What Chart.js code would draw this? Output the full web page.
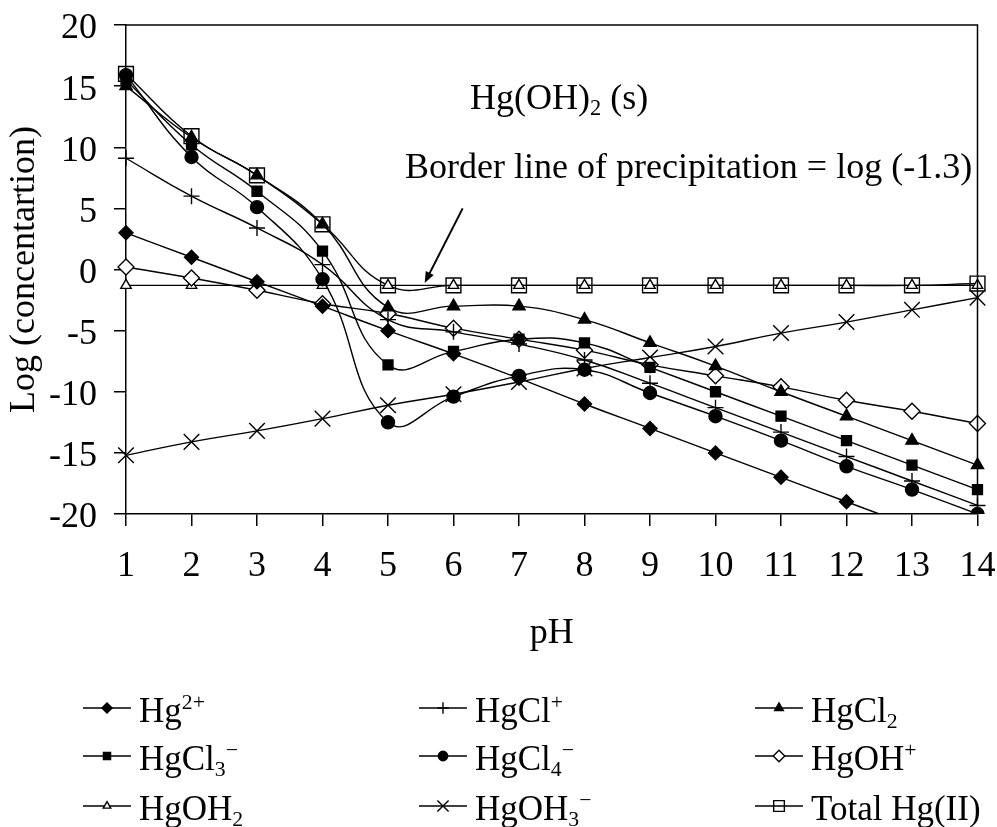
<!DOCTYPE html>
<html>
<head>
<meta charset="utf-8">
<script src="https://cdn.jsdelivr.net/npm/chart.js@4/dist/chart.umd.min.js"></script>
<style>
  html, body { margin: 0; padding: 0; background: #fff; }
  #wrap { position: relative; width: 997px; height: 827px; overflow: hidden;
          font-family: 'Liberation Serif', 'Times New Roman', serif; color: #000; }
  #chart { position: absolute; left: 0; top: 0; }
  .note { position: absolute; white-space: nowrap; font-size: 36px; line-height: 40px; }
  .item { position: absolute; white-space: nowrap; font-size: 35px; line-height: 40px; height: 40px; }
  .item canvas { position: absolute; left: 0; top: 5px; }
  .item span { position: absolute; left: 56px; top: 0; }
  sup, sub { font-size: 0.62em; line-height: 0; }
  sup { vertical-align: 0.62em; }
  sub { vertical-align: -0.28em; }
</style>
</head>
<body>
<div id="wrap">
  <canvas id="chart" width="997" height="827"></canvas>
  <div class="note" style="left:470px; top:77px;">Hg(OH)<sub>2</sub> (s)</div>
  <div class="note" style="left:405px; top:146px;">Border line of precipitation = log (-1.3)</div>
  <div id="legend"></div>
</div>
<script>
// pH values on the x axis
const pH = ['1', '2', '3', '4', '5', '6', '7', '8', '9', '10', '11', '12', '13', '14'];

// log concentration of each mercury species
const hg2   = [3.0, 1.0, -1.0, -3.0, -5.0, -6.9, -8.9, -11.0, -13.0, -15.0, -17.0, -19.0, -21.0, -23.0];
const hgCl  = [9.1, 6.0, 3.4, 0.4, -4.1, -5.1, -6.1, -7.4, -9.3, -11.3, -13.3, -15.3, -17.3, -19.3];
const hgCl2 = [15.0, 10.8, 7.7, 3.7, -3.1, -3.0, -3.0, -4.1, -6.0, -7.9, -10.0, -12.0, -14.0, -16.0];
const hgCl3 = [15.5, 10.2, 6.4, 1.5, -7.8, -6.7, -5.7, -6.0, -8.0, -10.0, -12.0, -14.0, -16.0, -18.0];
const hgCl4 = [15.9, 9.2, 5.1, -0.8, -12.5, -10.4, -8.7, -8.2, -10.1, -12.0, -14.0, -16.1, -18.0, -20.0];
const hgOH  = [0.2, -0.7, -1.7, -2.8, -3.6, -4.8, -5.7, -6.6, -7.8, -8.7, -9.6, -10.7, -11.6, -12.6];
const hgOH2 = [-1.3, -1.3, -1.3, -1.3, -1.3, -1.3, -1.3, -1.3, -1.3, -1.3, -1.3, -1.3, -1.3, -1.3];
const hgOH3 = [-15.2, -14.1, -13.2, -12.2, -11.1, -10.2, -9.2, -8.1, -7.2, -6.3, -5.2, -4.3, -3.3, -2.3];
const total = [16.0, 10.9, 7.7, 3.7, -1.3, -1.3, -1.3, -1.3, -1.3, -1.3, -1.3, -1.3, -1.3, -1.15];

const seriesNames = ['Hg2+', 'HgCl+', 'HgCl2', 'HgCl3-', 'HgCl4-', 'HgOH+', 'HgOH2', 'HgOH3-', 'Total Hg(II)'];
const legendLabels = [
  'Hg<sup>2+</sup>', 'HgCl<sup>+</sup>', 'HgCl<sub>2</sub>',
  'HgCl<sub>3</sub><sup>&minus;</sup>', 'HgCl<sub>4</sub><sup>&minus;</sup>', 'HgOH<sup>+</sup>',
  'HgOH<sub>2</sub>', 'HgOH<sub>3</sub><sup>&minus;</sup>', 'Total Hg(II)'
];

// y axis ticks
const yMin = -20, yMax = 20, yStep = 5;

const FONT = "'Liberation Serif', 'Times New Roman', serif";
const INK = '#000';

function series(label, data, style, radius, fill) {
  return {
    label, data,
    borderColor: INK, borderWidth: 1.4,
    pointStyle: style, pointRadius: radius, pointHoverRadius: radius,
    pointBackgroundColor: fill, pointBorderColor: INK, pointBorderWidth: 1.4,
    fill: false, tension: 0.45
  };
}

const datasets = [
  series(seriesNames[0], hg2,   'rectRot',  7,   INK),
  series(seriesNames[1], hgCl,  'cross',    8,   INK),
  series(seriesNames[2], hgCl2, 'triangle', 7,   INK),
  series(seriesNames[3], hgCl3, 'rect',     7,   INK),
  series(seriesNames[4], hgCl4, 'circle',   6.5, INK),
  series(seriesNames[5], hgOH,  'rectRot',  8,   '#fff'),
  series(seriesNames[6], hgOH2, 'triangle', 6,   '#fff'),
  series(seriesNames[7], hgOH3, 'crossRot', 11,  INK),
  series(seriesNames[8], total, 'rect',     10.5, 'rgba(0,0,0,0)')
];

// plot frame (top/right) and the arrow pointing at the precipitation line
const framePlugin = {
  id: 'frame',
  afterDraw(chart) {
    const { ctx, chartArea: a, scales: { x, y } } = chart;
    ctx.save();
    ctx.strokeStyle = INK;
    ctx.lineWidth = 1.5;
    ctx.beginPath();
    ctx.moveTo(a.left, a.top);
    ctx.lineTo(a.right, a.top);
    ctx.lineTo(a.right, a.bottom);
    ctx.stroke();

    const x0 = x.getPixelForValue(5.14), y0 = y.getPixelForValue(5.0);
    const x1 = x.getPixelForValue(4.56), y1 = y.getPixelForValue(-1.1);
    const ang = Math.atan2(y1 - y0, x1 - x0);
    const head = 12, spread = 0.38;
    ctx.lineWidth = 2;
    ctx.beginPath();
    ctx.moveTo(x0, y0);
    ctx.lineTo(x1 - Math.cos(ang) * head * 0.8, y1 - Math.sin(ang) * head * 0.8);
    ctx.stroke();
    ctx.fillStyle = INK;
    ctx.beginPath();
    ctx.moveTo(x1, y1);
    ctx.lineTo(x1 - head * Math.cos(ang - spread), y1 - head * Math.sin(ang - spread));
    ctx.lineTo(x1 - head * Math.cos(ang + spread), y1 - head * Math.sin(ang + spread));
    ctx.closePath();
    ctx.fill();
    ctx.restore();
  }
};

Chart.defaults.font.family = FONT;
Chart.defaults.font.size = 36;
Chart.defaults.color = INK;

const chart = new Chart(document.getElementById('chart'), {
  type: 'line',
  data: { labels: pH, datasets },
  options: {
    responsive: false,
    animation: false,
    devicePixelRatio: 1,
    layout: { padding: { left: 3, top: 25, right: 19.5, bottom: 157 } },
    plugins: { legend: { display: false }, tooltip: { enabled: false } },
    scales: {
      x: {
        type: 'category',
        offset: false,
        border: { display: true, color: INK, width: 1.5 },
        grid: { display: true, drawOnChartArea: false, drawTicks: true, tickLength: 12, color: INK, lineWidth: 1.5 },
        ticks: { padding: 19, maxRotation: 0, autoSkip: false, font: { size: 36 } },
        title: { display: true, text: 'pH', font: { size: 36 }, padding: { top: 0, bottom: 15 } },
        afterFit(s) { s.height = 156; s.paddingLeft = 0; s.paddingRight = 0; }
      },
      y: {
        min: yMin, max: yMax,
        border: { display: true, color: INK, width: 1.5 },
        grid: { display: true, drawOnChartArea: false, drawTicks: true, tickLength: 12, color: INK, lineWidth: 1.5 },
        ticks: { stepSize: yStep, padding: 17, labelOffset: 4, font: { size: 36 } },
        title: { display: true, text: 'Log (concentartion)', font: { size: 36 }, padding: { top: 0, bottom: 0 } },
        afterFit(s) { s.width = 123; s.paddingTop = 0; s.paddingBottom = 0; }
      }
    }
  },
  plugins: [framePlugin]
});

// legend: three columns of line + marker samples with formula text
(function buildLegend() {
  const colX = [83, 419, 755];
  const rowTop = [691, 739, 789];
  const host = document.getElementById('legend');
  const draw = Chart.helpers && Chart.helpers.drawPoint;
  datasets.forEach((ds, i) => {
    const item = document.createElement('div');
    item.className = 'item';
    item.style.left = colX[i % 3] + 'px';
    item.style.top = rowTop[Math.floor(i / 3)] + 'px';
    const c = document.createElement('canvas');
    c.width = 48; c.height = 24;
    const g = c.getContext('2d');
    g.strokeStyle = INK; g.lineWidth = 1.4;
    g.beginPath(); g.moveTo(0, 12); g.lineTo(48, 12); g.stroke();
    g.fillStyle = ds.pointBackgroundColor;
    if (draw) {
      draw(g, { pointStyle: ds.pointStyle, rotation: 0, radius: ds.pointRadius * 0.72, borderWidth: 1.4 }, 24, 12);
    }
    const t = document.createElement('span');
    t.innerHTML = legendLabels[i];
    item.appendChild(c);
    item.appendChild(t);
    host.appendChild(item);
  });
})();
</script>
</body>
</html>
